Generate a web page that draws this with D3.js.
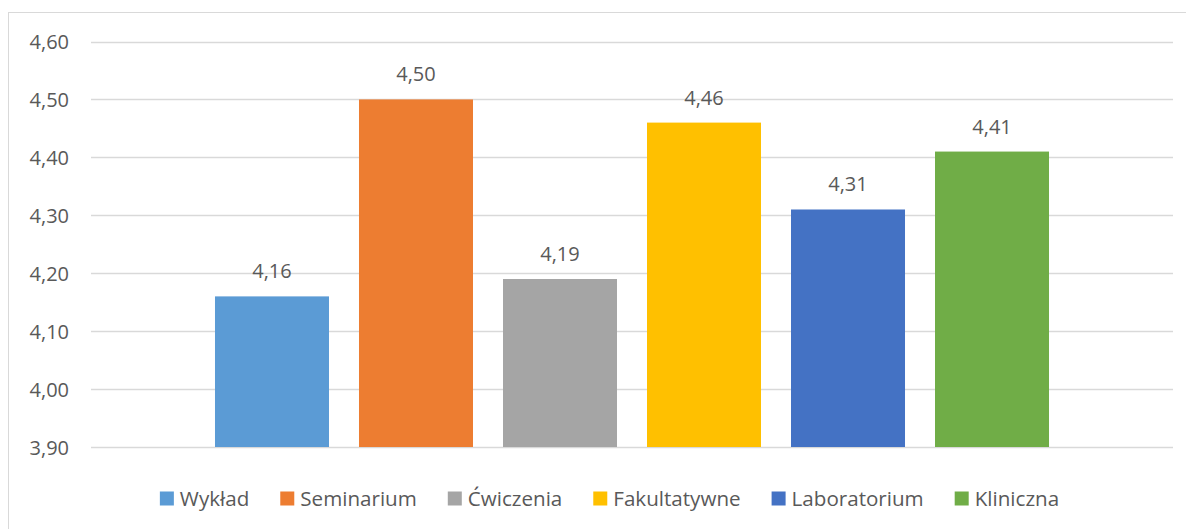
<!DOCTYPE html>
<html>
<head>
<meta charset="utf-8">
<script src="https://cdn.jsdelivr.net/npm/d3@7"></script>
<style>
  html, body { margin: 0; padding: 0; background: #fff; }
  svg text { font-family: "Open Sans", "Liberation Sans", sans-serif; fill: #595959; }
</style>
</head>
<body>
<div id="chart"></div>
<script>
// data
const seriesNames = ["Wykład", "Seminarium", "Ćwiczenia", "Fakultatywne", "Laboratorium", "Kliniczna"];
const seriesValues = [4.16, 4.50, 4.19, 4.46, 4.31, 4.41];
const seriesColors = ["#5B9BD5", "#ED7D31", "#A5A5A5", "#FFC000", "#4472C4", "#70AD47"];
const yTicks = [3.9, 4.0, 4.1, 4.2, 4.3, 4.4, 4.5, 4.6];

const width = 1186, height = 529;
const plot = { left: 91, right: 1173, top: 41.5, bottom: 447 };
const fmt = v => d3.format(".2f")(v).replace(".", ",");

const svg = d3.select("#chart").append("svg")
    .attr("width", width)
    .attr("height", height);

// chart frame (cut by the window on right and bottom)
svg.append("rect")
    .attr("x", 8.5).attr("y", 12.5)
    .attr("width", 1200).attr("height", 540)
    .attr("fill", "none")
    .attr("stroke", "#D9D9D9")
    .attr("stroke-width", 1);

const y = d3.scaleLinear()
    .domain([3.9, 4.6])
    .range([plot.bottom, plot.top]);

const x = d3.scaleBand()
    .domain(seriesNames)
    .range([plot.left, plot.right])
    .paddingInner(30 / 144)
    .paddingOuter(0.861);

// gridlines
svg.append("g").selectAll("line")
    .data(yTicks)
    .enter().append("line")
    .attr("x1", plot.left).attr("x2", plot.right)
    .attr("y1", d => Math.round(y(d)) + 0.5)
    .attr("y2", d => Math.round(y(d)) + 0.5)
    .attr("stroke", "#D9D9D9")
    .attr("stroke-width", 1.3);

// y axis labels
const yAxis = svg.append("g")
    .attr("transform", `translate(${plot.left - 22},0)`)
    .call(d3.axisLeft(y).tickValues(yTicks).tickFormat(fmt).tickSize(0).tickPadding(0));
yAxis.select(".domain").remove();
yAxis.selectAll("text")
    .style("font-size", "20px")
    .attr("fill", "#595959")
    .attr("dy", "0.36em");

// bars
svg.append("g").selectAll("rect")
    .data(seriesNames)
    .enter().append("rect")
    .attr("x", d => x(d))
    .attr("width", x.bandwidth())
    .attr("y", (d, i) => y(seriesValues[i]))
    .attr("height", (d, i) => y(3.9) - y(seriesValues[i]))
    .attr("fill", (d, i) => seriesColors[i]);

// data labels
svg.append("g").selectAll("text")
    .data(seriesNames)
    .enter().append("text")
    .attr("x", d => x(d) + x.bandwidth() / 2)
    .attr("y", (d, i) => y(seriesValues[i]) - 18)
    .attr("text-anchor", "middle")
    .style("font-size", "20px")
    .text((d, i) => fmt(seriesValues[i]));

// legend
const legend = svg.append("g");
const items = legend.selectAll("g")
    .data(seriesNames)
    .enter().append("g");
items.append("rect")
    .attr("width", 14).attr("height", 14)
    .attr("y", -14)
    .attr("fill", (d, i) => seriesColors[i]);
items.append("text")
    .attr("x", 20)
    .attr("y", 0)
    .style("font-size", "20.6px")
    .text(d => d);

let cx = 0;
items.each(function () {
    const w = 20 + this.querySelector("text").getComputedTextLength();
    d3.select(this).attr("transform", `translate(${cx},0)`);
    cx += w + 31;
});
const legendWidth = cx - 31;
legend.attr("transform", `translate(${609.5 - legendWidth / 2},505.5)`);
</script>
</body>
</html>
